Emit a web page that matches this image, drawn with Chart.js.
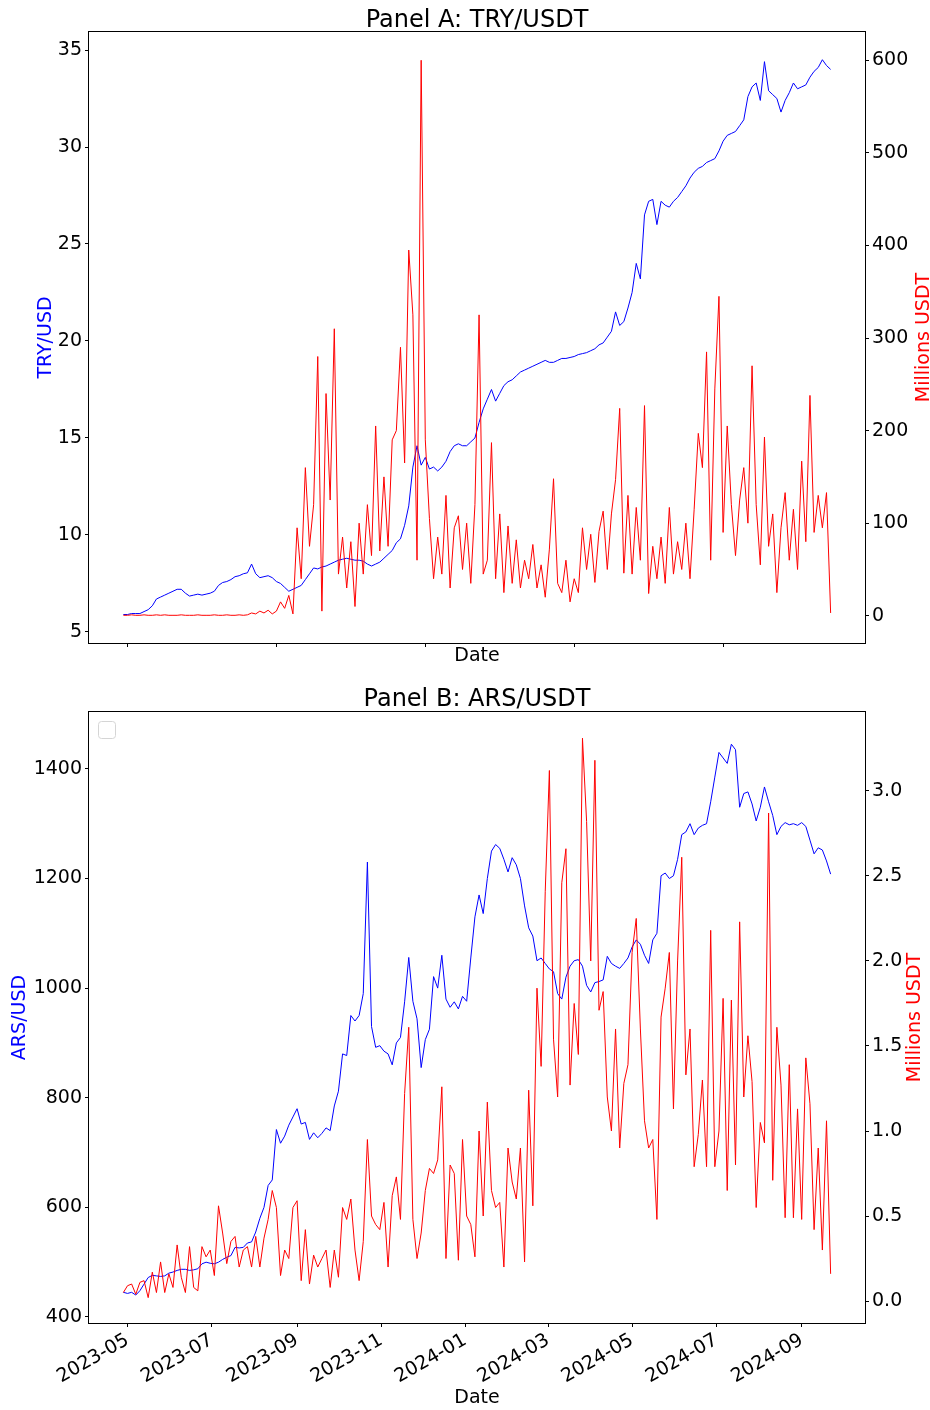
<!DOCTYPE html>
<html>
<head>
<meta charset="utf-8">
<script src="https://cdn.jsdelivr.net/npm/chart.js@4.4.1/dist/chart.umd.min.js"></script>
<style>
  html, body { margin: 0; padding: 0; background: #fff; }
  canvas { display: block; }
</style>
</head>
<body>
<canvas id="panelA" width="930" height="680"></canvas>
<canvas id="panelB" width="930" height="730"></canvas>
<script>
// sampling of the series: one value every 3 days from the start date
const START_DATE = '2023-04-28';
const STEP_DAYS = 3;

// Panel A
const tryUsd = [
  5.90, 5.90, 5.95, 5.95, 5.95, 6.05, 6.15, 6.35, 6.70, 6.80,
  6.90, 7.00, 7.10, 7.20, 7.20, 7.00, 6.85, 6.90, 6.95, 6.90,
  6.95, 7.00, 7.10, 7.40, 7.55, 7.60, 7.70, 7.85, 7.90, 8.00,
  8.05, 8.50, 8.00, 7.80, 7.85, 7.90, 7.80, 7.60, 7.50, 7.30,
  7.10, 7.20, 7.30, 7.40, 7.70, 8.00, 8.30, 8.25, 8.35, 8.40,
  8.50, 8.60, 8.70, 8.75, 8.80, 8.75, 8.70, 8.70, 8.65, 8.50,
  8.40, 8.50, 8.60, 8.80, 9.00, 9.20, 9.60, 9.80, 10.5, 11.5,
  13.5, 14.6, 13.6, 14.0, 13.4, 13.5, 13.3, 13.5, 13.8, 14.3,
  14.6, 14.7, 14.6, 14.6, 14.8, 15.0, 15.8, 16.5, 17.0, 17.5,
  16.9, 17.3, 17.7, 17.9, 18.0, 18.2, 18.4, 18.5, 18.6, 18.7,
  18.8, 18.9, 19.0, 18.9, 18.9, 19.0, 19.1, 19.1, 19.15, 19.2,
  19.3, 19.35, 19.4, 19.5, 19.6, 19.8, 19.9, 20.2, 20.5, 21.5,
  20.8, 21.0, 21.7, 22.5, 24.0, 23.2, 26.5, 27.2, 27.3, 26.0,
  27.2, 27.0, 26.9, 27.2, 27.4, 27.7, 28.0, 28.4, 28.7, 28.9,
  29.0, 29.2, 29.3, 29.4, 29.8, 30.3, 30.6, 30.7, 30.8, 31.1,
  31.4, 32.6, 33.1, 33.3, 32.4, 34.4, 32.9, 32.7, 32.5, 31.8,
  32.4, 32.8, 33.3, 33.0, 33.1, 33.2, 33.6, 33.9, 34.1, 34.5,
  34.2, 34.0
];
const tryVolume = [
  0.5, 0.5, 1, 0.5, 0.5, 1, 0.5, 0.5, 1, 0.5,
  1, 0.5, 0.5, 0.5, 1, 0.5, 0.5, 0.5, 1, 0.5,
  0.5, 0.5, 1, 0.5, 0.5, 1, 0.5, 0.5, 1, 0.5,
  1, 3, 2, 5, 3, 6, 2, 5, 15, 8,
  22, 2, 95, 40, 160, 75, 120, 280, 5, 240,
  125, 310, 45, 85, 30, 80, 10, 100, 45, 120,
  65, 205, 70, 150, 75, 190, 200, 290, 165, 395,
  325, 60, 600, 190, 105, 40, 85, 45, 130, 30,
  95, 108, 50, 100, 35, 120, 325, 45, 60, 187,
  40, 110, 25, 97, 35, 82, 30, 60, 40, 77,
  30, 55, 20, 72, 148, 35, 25, 60, 15, 40,
  25, 95, 50, 88, 36, 91, 113, 50, 110, 147,
  224, 46, 130, 45, 117, 60, 227, 24, 75, 40,
  85, 35, 117, 45, 80, 50, 100, 40, 115, 197,
  160, 285, 60, 245, 345, 90, 205, 120, 65, 125,
  160, 100, 270, 120, 55, 193, 75, 110, 25, 95,
  133, 60, 115, 50, 167, 80, 238, 90, 130, 95,
  133, 3
];

// Panel B
const arsUsd = [
  445, 443, 445, 440, 448, 460, 472, 476, 475, 474,
  475, 480, 482, 485, 487, 487, 485, 486, 488, 497,
  500, 498, 497, 500, 505, 509, 512, 527, 526, 527,
  535, 537, 555, 580, 600, 640, 650, 742, 717, 730,
  750, 765, 780, 752, 755, 724, 736, 727, 735, 745,
  740, 785, 812, 880, 877, 950, 940, 950, 990, 1230,
  930, 892, 895, 885, 880, 860, 900, 910, 975, 1056,
  976, 944, 855, 906, 925, 1021, 1000, 1060, 980, 965,
  975, 962, 985, 976, 1055, 1130, 1170, 1136, 1200, 1250,
  1262, 1255, 1235, 1212, 1238, 1225, 1200, 1150, 1110, 1095,
  1050, 1055, 1045, 1035, 1030, 990, 980, 1020, 1040, 1050,
  1052, 1040, 1005, 993, 1010, 1012, 1015, 1058, 1045, 1040,
  1036, 1045, 1055, 1075, 1088, 1080, 1060, 1045, 1088, 1100,
  1205, 1210, 1200, 1205, 1235, 1280, 1285, 1300, 1280, 1292,
  1297, 1300, 1340, 1385, 1430, 1420, 1410, 1445, 1435, 1330,
  1355, 1358, 1336, 1305, 1330, 1367, 1340, 1315, 1280, 1295,
  1302, 1298, 1300, 1297, 1302, 1295, 1270, 1245, 1256, 1252,
  1232, 1208
];
const arsVolume = [
  0.05, 0.09, 0.10, 0.04, 0.11, 0.12, 0.02, 0.17, 0.05, 0.23,
  0.05, 0.16, 0.08, 0.33, 0.14, 0.05, 0.32, 0.08, 0.06, 0.32,
  0.26, 0.30, 0.15, 0.56, 0.40, 0.22, 0.35, 0.38, 0.20, 0.30,
  0.32, 0.20, 0.38, 0.20, 0.37, 0.48, 0.65, 0.55, 0.15, 0.30,
  0.25, 0.55, 0.59, 0.12, 0.42, 0.10, 0.27, 0.20, 0.25, 0.30,
  0.08, 0.30, 0.14, 0.55, 0.48, 0.60, 0.30, 0.12, 0.35, 0.95,
  0.50, 0.45, 0.42, 0.58, 0.20, 0.62, 0.73, 0.48, 1.22, 1.61,
  0.48, 0.25, 0.40, 0.65, 0.78, 0.75, 0.83, 1.26, 0.25, 0.80,
  0.75, 0.24, 0.95, 0.50, 0.45, 0.26, 1.00, 0.50, 1.17, 0.65,
  0.55, 0.58, 0.20, 0.90, 0.70, 0.60, 0.90, 0.23, 1.24, 0.56,
  1.84, 1.38, 2.41, 3.12, 1.54, 1.20, 2.46, 2.66, 1.27, 1.75,
  1.45, 3.31, 2.82, 2.00, 3.18, 1.71, 1.82, 1.20, 1.00, 1.60,
  0.90, 1.28, 1.39, 2.05, 2.25, 1.60, 1.06, 0.90, 0.95, 0.48,
  1.67, 1.84, 2.05, 1.13, 2.00, 2.61, 1.33, 1.60, 0.79, 0.98,
  1.30, 0.79, 2.18, 0.79, 1.00, 1.78, 0.65, 1.77, 0.80, 2.23,
  1.20, 1.56, 1.29, 0.55, 1.05, 0.93, 2.87, 0.71, 1.61, 1.27,
  0.49, 1.39, 0.49, 1.13, 0.48, 1.43, 1.16, 0.42, 0.90, 0.30,
  1.06, 0.16
];

// ticks
const tickDatesA = ['2023-05-01', '2023-08-17', '2023-12-03', '2024-03-20', '2024-07-06'];
const tickMonthsB = ['2023-05', '2023-07', '2023-09', '2023-11', '2024-01', '2024-03', '2024-05', '2024-07', '2024-09'];
const tryTicks = [5, 10, 15, 20, 25, 30, 35];
const tryVolTicks = [0, 100, 200, 300, 400, 500, 600];
const arsTicks = [400, 600, 800, 1000, 1200, 1400];
const arsVolTicks = [0, 0.5, 1.0, 1.5, 2.0, 2.5, 3.0];

const DAY = 86400000;
const t0 = Date.parse(START_DATE);
const dates = tryUsd.map((_, i) => t0 + i * STEP_DAYS * DAY);
const span = dates[dates.length - 1] - dates[0];
const xMin = dates[0] - 0.05 * span;
const xMax = dates[dates.length - 1] + 0.05 * span;

Chart.defaults.font.family = '"DejaVu Sans", sans-serif';
Chart.defaults.font.size = 19;
Chart.defaults.color = '#000';

function fmtMonth(v) {
    const d = new Date(v);
    return d.getUTCFullYear() + '-' + String(d.getUTCMonth() + 1).padStart(2, '0');
}

// frame, title, right axis label and (empty) legend box
const panelDecor = {
    id: 'panelDecor',
    afterDraw(chart, args, o) {
        const ctx = chart.ctx;
        const a = chart.chartArea;
        ctx.save();
        ctx.strokeStyle = '#000';
        ctx.lineWidth = 1;
        ctx.strokeRect(Math.round(a.left) + 0.5, Math.round(a.top) + 0.5,
            Math.round(a.width) - 1, Math.round(a.height) - 1);

        ctx.fillStyle = '#000';
        ctx.font = '24px "DejaVu Sans"';
        ctx.textAlign = 'center';
        ctx.textBaseline = 'alphabetic';
        ctx.fillText(o.title, (a.left + a.right) / 2, o.titleY);

        ctx.save();
        ctx.translate(o.rightTitleX, (a.top + a.bottom) / 2);
        ctx.rotate(-Math.PI / 2);
        ctx.fillStyle = 'red';
        ctx.font = '19px "DejaVu Sans"';
        ctx.fillText(o.rightTitle, 0, 0);
        ctx.restore();

        if (o.legendBox) {
            ctx.strokeStyle = '#d5d5d5';
            ctx.beginPath();
            ctx.roundRect(a.left + 10.5, a.top + 10.5, 17, 17, 3);
            ctx.stroke();
        }
        ctx.restore();
    }
};

const tickGrid = { display: true, drawOnChartArea: false, drawTicks: true, tickLength: 3, color: '#000', lineWidth: 1 };

function makePanel(id, p) {
    return new Chart(document.getElementById(id), {
        type: 'line',
        data: {
            datasets: [
                {
                    data: p.volume.map((v, i) => ({ x: dates[i], y: v })),
                    borderColor: 'red', borderWidth: 1, pointRadius: 0,
                    borderJoinStyle: 'round', yAxisID: 'y1'
                },
                {
                    data: p.rate.map((v, i) => ({ x: dates[i], y: v })),
                    borderColor: 'blue', borderWidth: 1, pointRadius: 0,
                    borderJoinStyle: 'round', yAxisID: 'y'
                }
            ]
        },
        options: {
            responsive: false,
            animation: false,
            events: [],
            layout: { padding: { top: 31, left: 0, right: 0, bottom: 0 } },
            plugins: {
                legend: { display: false },
                tooltip: { enabled: false },
                panelDecor: p.decor
            },
            scales: {
                x: {
                    type: 'linear', min: xMin, max: xMax, bounds: 'data',
                    afterFit: s => { s.height = p.xHeight; },
                    afterBuildTicks: s => { s.ticks = p.xTicks.map(v => ({ value: v })); },
                    grid: tickGrid,
                    border: { display: false },
                    ticks: {
                        display: p.xLabels, autoSkip: false, minRotation: 30, maxRotation: 30,
                        padding: 2, callback: fmtMonth
                    },
                    title: { display: true, text: 'Date', padding: { top: 0, bottom: p.xTitlePad } }
                },
                y: {
                    position: 'left', min: p.leftRange[0], max: p.leftRange[1],
                    afterFit: s => { s.width = 88; },
                    afterBuildTicks: s => { s.ticks = p.leftTicks.map(v => ({ value: v })); },
                    grid: tickGrid,
                    border: { display: false },
                    ticks: { padding: 3, callback: v => String(v) },
                    title: {
                        display: true, text: p.leftTitle, color: 'blue',
                        padding: { top: p.leftTitlePad, bottom: 0 }
                    }
                },
                y1: {
                    position: 'right', min: p.rightRange[0], max: p.rightRange[1],
                    afterFit: s => { s.width = 64; },
                    afterBuildTicks: s => { s.ticks = p.rightTicks.map(v => ({ value: v })); },
                    grid: tickGrid,
                    border: { display: false },
                    ticks: { padding: 3, callback: p.rightFmt }
                }
            }
        },
        plugins: [panelDecor]
    });
}

makePanel('panelA', {
    rate: tryUsd, volume: tryVolume,
    xTicks: tickDatesA.map(d => Date.parse(d)), xLabels: false, xHeight: 36, xTitlePad: 12.6,
    leftRange: [4.38, 35.98], leftTicks: tryTicks, leftTitle: 'TRY/USD', leftTitlePad: 34.6,
    rightRange: [-30.5, 631.6], rightTicks: tryVolTicks, rightFmt: v => String(v),
    decor: { title: 'Panel A: TRY/USDT', titleY: 26.5, rightTitle: 'Millions USDT', rightTitleX: 929, legendBox: false }
});

makePanel('panelB', {
    rate: arsUsd, volume: arsVolume,
    xTicks: tickMonthsB.map(m => Date.parse(m + '-01')), xLabels: true, xHeight: 86, xTitlePad: 0.6,
    leftRange: [387.2, 1505.6], leftTicks: arsTicks, leftTitle: 'ARS/USD', leftTitlePad: 9.1,
    rightRange: [-0.135, 3.47], rightTicks: arsVolTicks, rightFmt: v => v.toFixed(1),
    decor: { title: 'Panel B: ARS/USDT', titleY: 26, rightTitle: 'Millions USDT', rightTitleX: 920, legendBox: true }
});
</script>
</body>
</html>
